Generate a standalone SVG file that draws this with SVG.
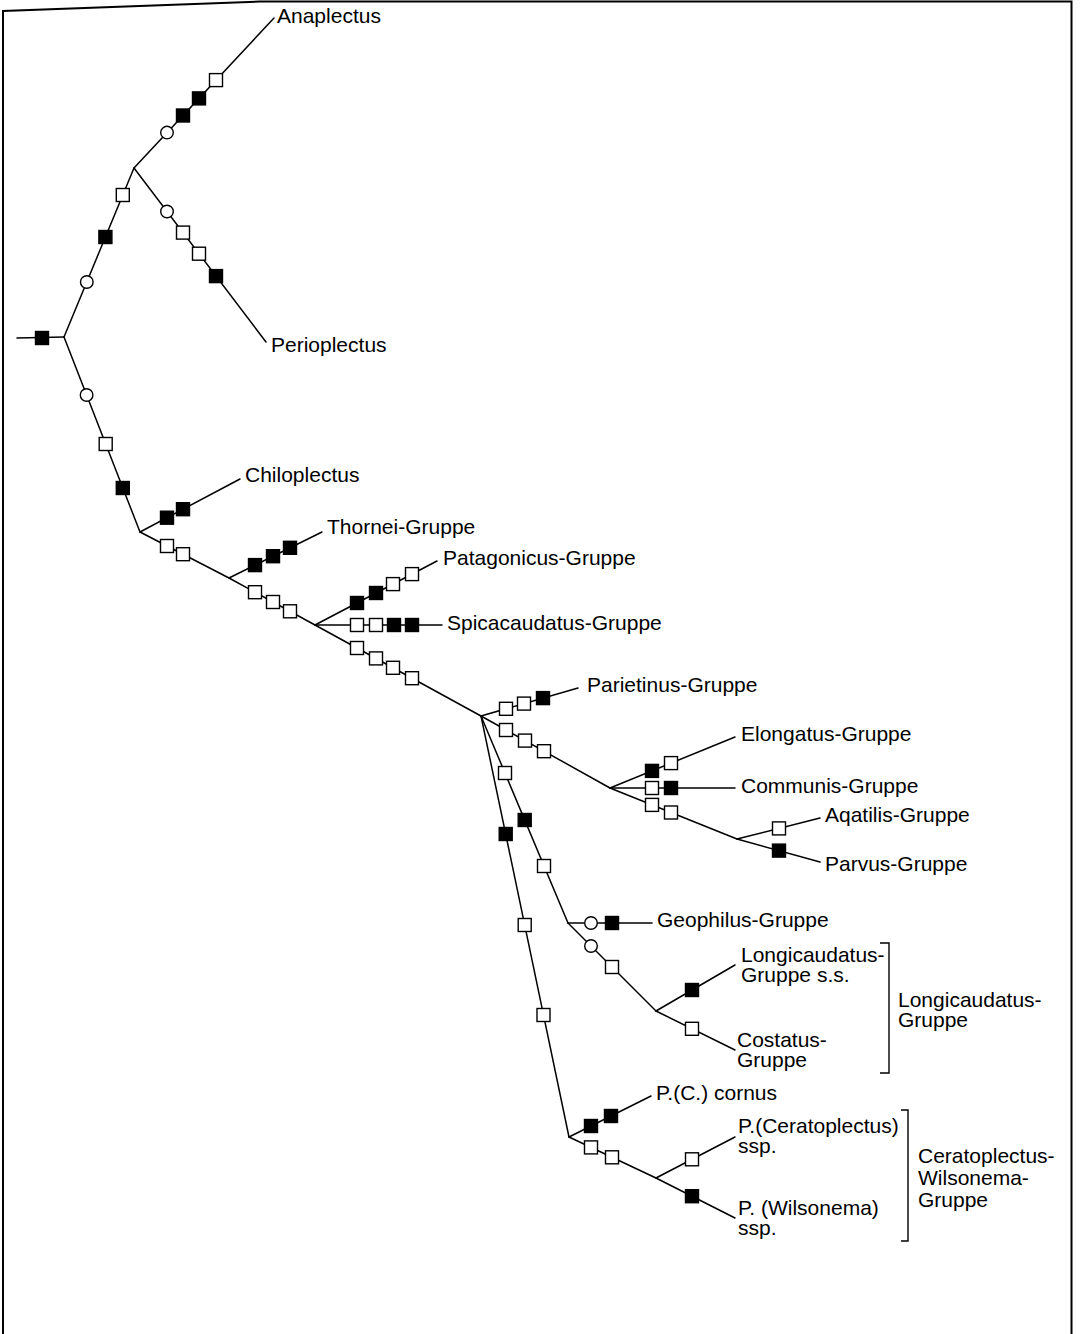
<svg xmlns="http://www.w3.org/2000/svg" xmlns:xlink="http://www.w3.org/1999/xlink" width="1081" height="1334" viewBox="0 0 1081 1334">
<style>
.e{stroke:#000;stroke-width:1.5;fill:none;stroke-linecap:round}
.fr{stroke:#000;stroke-width:2;fill:none}
.br{stroke:#000;stroke-width:1.4;fill:none}
text{font-family:"Liberation Sans",Arial,sans-serif;font-size:21px;fill:#000}
</style>
<defs>
<rect id="os" x="-6.5" y="-6.5" width="13" height="13" fill="#fff" stroke="#000" stroke-width="1.4"/>
<rect id="fs" x="-6.5" y="-6.5" width="13" height="13" fill="#000" stroke="#000" stroke-width="1.4"/>
<circle id="oc" r="6.3" fill="#fff" stroke="#000" stroke-width="1.4"/>
</defs>
<rect width="1081" height="1334" fill="#fff"/>
<polyline class="fr" points="3,1334 3,11 260,1.5 1071.5,1.5 1071.5,1334"/>
<g id="connectors">
<line class="e" x1="17" y1="338" x2="64" y2="337"/>
<line class="e" x1="64" y1="337" x2="134" y2="168"/>
<line class="e" x1="134" y1="168" x2="274" y2="18"/>
<line class="e" x1="134" y1="168" x2="266" y2="342"/>
<line class="e" x1="64" y1="337" x2="140" y2="532"/>
<line class="e" x1="140" y1="532" x2="240" y2="479"/>
<line class="e" x1="140" y1="532" x2="229" y2="578"/>
<line class="e" x1="229" y1="578" x2="322" y2="532"/>
<line class="e" x1="229" y1="578" x2="315" y2="625"/>
<line class="e" x1="315" y1="625" x2="437" y2="561"/>
<line class="e" x1="315" y1="625" x2="442" y2="625"/>
<line class="e" x1="315" y1="625" x2="481" y2="716"/>
<line class="e" x1="481" y1="716" x2="578" y2="688"/>
<line class="e" x1="481" y1="716" x2="610" y2="788"/>
<line class="e" x1="610" y1="788" x2="735" y2="737"/>
<line class="e" x1="610" y1="788" x2="735" y2="788"/>
<line class="e" x1="610" y1="788" x2="737" y2="839"/>
<line class="e" x1="737" y1="839" x2="820" y2="818"/>
<line class="e" x1="737" y1="839" x2="820" y2="862"/>
<line class="e" x1="481" y1="716" x2="568" y2="923"/>
<line class="e" x1="568" y1="923" x2="652" y2="923"/>
<line class="e" x1="568" y1="923" x2="656" y2="1011"/>
<line class="e" x1="656" y1="1011" x2="735" y2="965"/>
<line class="e" x1="656" y1="1011" x2="735" y2="1050"/>
<line class="e" x1="481" y1="716" x2="569" y2="1137"/>
<line class="e" x1="569" y1="1137" x2="651" y2="1096"/>
<line class="e" x1="569" y1="1137" x2="656" y2="1178"/>
<line class="e" x1="656" y1="1178" x2="735" y2="1137"/>
<line class="e" x1="656" y1="1178" x2="735" y2="1218"/>
</g>
<g id="characters">
<use xlink:href="#fs" x="42" y="338"/>
<use xlink:href="#oc" x="86.8" y="282"/>
<use xlink:href="#fs" x="105.4" y="237"/>
<use xlink:href="#os" x="122.8" y="195"/>
<use xlink:href="#oc" x="167" y="132.6"/>
<use xlink:href="#fs" x="183" y="115.5"/>
<use xlink:href="#fs" x="199" y="98.4"/>
<use xlink:href="#os" x="216" y="80.1"/>
<use xlink:href="#oc" x="167" y="211.5"/>
<use xlink:href="#os" x="183" y="232.6"/>
<use xlink:href="#os" x="199" y="253.7"/>
<use xlink:href="#fs" x="216" y="276.1"/>
<use xlink:href="#oc" x="86.6" y="395"/>
<use xlink:href="#os" x="105.7" y="444"/>
<use xlink:href="#fs" x="122.8" y="488"/>
<use xlink:href="#fs" x="167" y="517.7"/>
<use xlink:href="#fs" x="183" y="509.2"/>
<use xlink:href="#os" x="167" y="546"/>
<use xlink:href="#os" x="183" y="554.2"/>
<use xlink:href="#fs" x="255" y="565.1"/>
<use xlink:href="#fs" x="273" y="556.2"/>
<use xlink:href="#fs" x="290" y="547.8"/>
<use xlink:href="#os" x="255" y="592.2"/>
<use xlink:href="#os" x="273" y="602"/>
<use xlink:href="#os" x="290" y="611.3"/>
<use xlink:href="#fs" x="357" y="603"/>
<use xlink:href="#fs" x="376" y="593"/>
<use xlink:href="#os" x="393" y="584.1"/>
<use xlink:href="#os" x="412" y="574.1"/>
<use xlink:href="#os" x="357" y="625"/>
<use xlink:href="#os" x="376" y="625"/>
<use xlink:href="#fs" x="394" y="625"/>
<use xlink:href="#fs" x="412" y="625"/>
<use xlink:href="#os" x="357" y="648"/>
<use xlink:href="#os" x="376" y="658.4"/>
<use xlink:href="#os" x="393" y="667.8"/>
<use xlink:href="#os" x="412" y="678.2"/>
<use xlink:href="#os" x="506" y="708.8"/>
<use xlink:href="#os" x="524" y="703.6"/>
<use xlink:href="#fs" x="543" y="698.1"/>
<use xlink:href="#os" x="506" y="730"/>
<use xlink:href="#os" x="525" y="740.6"/>
<use xlink:href="#os" x="544" y="751.2"/>
<use xlink:href="#fs" x="652" y="770.9"/>
<use xlink:href="#os" x="671" y="763.1"/>
<use xlink:href="#os" x="652" y="788"/>
<use xlink:href="#fs" x="671" y="788"/>
<use xlink:href="#os" x="652" y="804.9"/>
<use xlink:href="#os" x="671" y="812.5"/>
<use xlink:href="#os" x="779" y="828.4"/>
<use xlink:href="#fs" x="779" y="850.6"/>
<use xlink:href="#os" x="505" y="773"/>
<use xlink:href="#fs" x="524.7" y="820"/>
<use xlink:href="#os" x="544" y="866"/>
<use xlink:href="#oc" x="591" y="923"/>
<use xlink:href="#fs" x="612" y="923"/>
<use xlink:href="#oc" x="591" y="946"/>
<use xlink:href="#os" x="612" y="967"/>
<use xlink:href="#fs" x="692" y="990"/>
<use xlink:href="#os" x="692" y="1028.8"/>
<use xlink:href="#fs" x="505.7" y="834"/>
<use xlink:href="#os" x="524.7" y="925"/>
<use xlink:href="#os" x="543.5" y="1015"/>
<use xlink:href="#fs" x="591" y="1126"/>
<use xlink:href="#fs" x="611" y="1116"/>
<use xlink:href="#os" x="591" y="1147.4"/>
<use xlink:href="#os" x="612" y="1157.3"/>
<use xlink:href="#os" x="692" y="1159.3"/>
<use xlink:href="#fs" x="692" y="1196.2"/>
</g>
<g id="n-anaplectus"><text x="277" y="23">Anaplectus</text></g>
<g id="n-perioplectus"><text x="271" y="352">Perioplectus</text></g>
<g id="n-chiloplectus"><text x="245" y="482">Chiloplectus</text></g>
<g id="n-thornei"><text x="327" y="534">Thornei-Gruppe</text></g>
<g id="n-patagonicus"><text x="443" y="565">Patagonicus-Gruppe</text></g>
<g id="n-spicacaudatus"><text x="447" y="630">Spicacaudatus-Gruppe</text></g>
<g id="n-parietinus"><text x="587" y="692">Parietinus-Gruppe</text></g>
<g id="n-elongatus"><text x="741" y="741">Elongatus-Gruppe</text></g>
<g id="n-communis"><text x="741" y="793">Communis-Gruppe</text></g>
<g id="n-aqatilis"><text x="825" y="822">Aqatilis-Gruppe</text></g>
<g id="n-parvus"><text x="825" y="871">Parvus-Gruppe</text></g>
<g id="n-geophilus"><text x="657" y="927">Geophilus-Gruppe</text></g>
<g id="n-longicaudatus-ss"><text x="741" y="962">Longicaudatus-<tspan x="741" dy="20">Gruppe s.s.</tspan></text></g>
<g id="n-costatus"><text x="737" y="1047">Costatus-<tspan x="737" dy="20">Gruppe</tspan></text></g>
<g id="n-longicaudatus-group"><path class="br" d="M880,943 H889 V1073 H880"/><text x="898" y="1007">Longicaudatus-<tspan x="898" dy="20">Gruppe</tspan></text></g>
<g id="n-cornus"><text x="656" y="1100">P.(C.) cornus</text></g>
<g id="n-ceratoplectus"><text x="738" y="1133">P.(Ceratoplectus)<tspan x="738" dy="20">ssp.</tspan></text></g>
<g id="n-wilsonema"><text x="738" y="1215">P. (Wilsonema)<tspan x="738" dy="20">ssp.</tspan></text></g>
<g id="n-ceratoplectus-wilsonema-group"><path class="br" d="M901,1110 H908 V1241 H901"/><text x="918" y="1163">Ceratoplectus-<tspan x="918" dy="22">Wilsonema-</tspan><tspan x="918" dy="22">Gruppe</tspan></text></g>
</svg>
